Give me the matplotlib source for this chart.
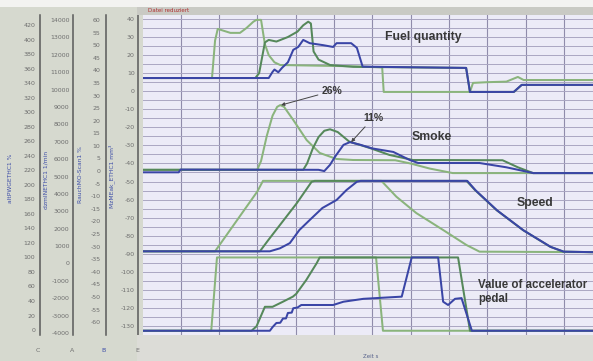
import numpy as np
import matplotlib
matplotlib.use("Agg")
import matplotlib.pyplot as plt
from matplotlib.patches import Rectangle

plt.rcParams["axes.unicode_minus"] = False

# ---------------- data ----------------
# Fuel quantity, axis E (mm^3)
fuel_lg_t = [22.0, 23.82, 23.9, 23.97, 24.3, 24.55, 24.72, 24.9, 24.98, 25.1, 25.2, 25.3, 25.45, 25.6, 27.5, 28.26, 28.3, 30.55, 30.63, 31.0, 31.5, 31.8, 31.95, 33.76]
fuel_lg_v = [7.3, 7.3, 28, 34.5, 32.3, 32.3, 35, 38.5, 39.5, 39.5, 26, 20, 16, 14.5, 13.8, 13.2, -0.4, -0.4, 4.6, 5.0, 5.3, 7.9, 6.2, 6.2]
fuel_dg_t = [22.0, 24.95, 25.05, 25.2, 25.3, 25.5, 25.8, 26.05, 26.2, 26.33, 26.4, 26.47, 26.6, 26.9, 27.5, 30.45, 30.55, 31.7, 31.9, 33.76]
fuel_dg_v = [7.3, 7.3, 10, 27, 28.4, 27.5, 30, 33, 36.5, 38.5, 37.5, 22, 17.5, 14.5, 13.5, 12.9, -0.4, -0.4, 3.5, 3.5]
fuel_bl_t = [22.0, 25.3, 25.4, 25.45, 25.55, 25.65, 25.8, 25.94, 26.07, 26.2, 26.37, 26.72, 26.98, 27.07, 27.45, 27.6, 27.75, 30.45, 30.55, 31.69, 31.9, 33.76]
fuel_bl_v = [7.3, 7.3, 10.7, 12, 10.5, 13, 16, 22.9, 24.5, 28.4, 26.6, 25.5, 24.5, 26.6, 26.6, 24, 13.6, 12.9, -0.4, -0.4, 3.5, 3.5]

# Smoke, axis B (%)
smoke_lg_t = [22.0, 25.0, 25.1, 25.25, 25.4, 25.52, 25.6, 25.7, 25.94, 26.29, 26.63, 27.07, 27.5, 28.6, 29.0, 29.5, 30.1, 33.76]
smoke_lg_v = [0.5, 0.5, 4, 14, 22, 25.5, 26.2, 25.5, 20.3, 12.3, 7.2, 4.8, 4.4, 4.3, 3.0, 1.0, -0.8, -0.8]
smoke_dg_t = [22.0, 26.2, 26.3, 26.45, 26.6, 26.75, 26.9, 27.1, 27.4, 27.93, 28.45, 29.06, 31.4, 31.8, 32.2, 33.76]
smoke_dg_v = [0.5, 0.5, 3, 9, 13.5, 16, 16.6, 15.5, 11.7, 9.2, 6.4, 4.4, 4.3, 1.5, -0.8, -0.8]
smoke_bl_t = [22.0, 22.95, 23.0, 26.6, 26.75, 26.9, 27.03, 27.25, 27.42, 27.7, 28.0, 28.55, 28.98, 29.2, 30.8, 31.5, 32.2, 33.76]
smoke_bl_v = [-0.5, -0.5, 0.6, 0.5, 0.0, 2.5, 5.7, 10.4, 11.5, 10.4, 9.0, 7.6, 4.4, 3.2, 3.2, 1.5, -0.8, -0.8]

# Engine speed, axis A (1/min)
speed_lg_t = [22.0, 23.9, 25.0, 25.15, 28.24, 28.63, 29.15, 29.85, 30.46, 30.8, 33.76]
speed_lg_v = [700, 700, 4130, 4750, 4750, 3840, 2900, 1925, 1060, 680, 650]
speed_dg_t = [22.0, 25.07, 25.29, 26.03, 26.42, 26.5, 30.46, 30.68, 31.24, 31.93, 32.64, 32.98, 33.76]
speed_dg_v = [700, 700, 1350, 3460, 4700, 4750, 4750, 4225, 3075, 1925, 965, 680, 650]
speed_bl_t = [22.0, 25.33, 25.59, 25.85, 26.1, 26.37, 26.7, 27.07, 27.33, 27.6, 27.7, 30.48, 30.7, 31.26, 31.95, 32.66, 33.0, 33.76]
speed_bl_v = [700, 700, 870, 1170, 1925, 2500, 3190, 3650, 4225, 4700, 4750, 4750, 4200, 3050, 1900, 950, 680, 650]

# Accelerator pedal, axis C (%)
pedal_lg_t = [22.0, 23.8, 23.95, 28.1, 28.28, 33.76]
pedal_lg_v = [-1, -1, 100, 100, -1, -1]
pedal_dg_t = [22.0, 24.85, 24.98, 25.2, 25.4, 25.67, 25.93, 26.02, 26.28, 26.55, 26.63, 30.24, 30.55, 33.76]
pedal_dg_v = [-1, -1, 5, 32, 32, 39, 46, 50, 69, 92, 100, 100, -1, -1]
pedal_bl_t = [22.0, 25.33, 25.4, 25.5, 25.6, 25.67, 25.75, 25.8, 25.9, 25.94, 26.05, 26.15, 26.98, 27.25, 27.77, 28.77, 29.03, 29.72, 29.85, 29.98, 30.16, 30.33, 30.6, 33.76]
pedal_bl_v = [-1, -1, 4, 9.7, 10, 15.8, 16, 23.5, 24, 30, 31, 34.5, 34.5, 39, 43, 46, 100, 100, 39, 34.5, 43, 44, -1, -1]

x_ticks = [23, 24, 25, 26, 27, 28, 29, 30, 31, 32, 33]
ticks_C = list(range(0, 421, 20))
ticks_A = list(range(-4000, 14001, 1000))
ticks_B = list(range(-60, 61, 5))
ticks_E = list(range(-130, 41, 10))
label_C = "altPWGETHC1 %"
label_A = "dzmINETHC1 1/min"
label_B = "RauchMO-Scan1 %"
label_E = "MzMEak_ETHC1 mm³"

# ---------------- figure ----------------
W, H = 593, 361
fig = plt.figure(figsize=(W / 100, H / 100), dpi=100)
fig.patch.set_facecolor("#d6d9cf")

def fx(px):
    return px / W

def fy(py):
    return 1 - py / H

# backgrounds
fig.patches.append(Rectangle((0, fy(7)), 1, 7 / H, transform=fig.transFigure,
                             facecolor="#f3f3f1", edgecolor="none", zorder=0))
fig.patches.append(Rectangle((fx(137), fy(15)), 1, 8 / H, transform=fig.transFigure,
                             facecolor="#c9cac4", edgecolor="none", zorder=0))
fig.patches.append(Rectangle((fx(137), 0), 1, 26 / H, transform=fig.transFigure,
                             facecolor="#dcdcd7", edgecolor="none", zorder=0))
fig.text(fx(148), fy(11), "Datei reduziert", color="#b03030", fontsize=4,
         va="center", ha="left")

rect = [fx(143), fy(335), 450 / W, 320 / H]
tcol = "#6e6e6e"
scol = "#5a5a5a"

ax = fig.add_axes(rect)
ax.set_facecolor("#ecebf7")
ax.set_xlim(22.02, 33.76)
ax.set_ylim(-135, 42.2)
ax.set_xticks(x_ticks)
ax.set_yticks(ticks_E)
ax.set_yticks(np.arange(-135, 42, 5), minor=True)
ax.grid(True, which="both", axis="y", color="#aaa6c2", lw=0.7)
ax.grid(True, which="major", axis="x", color="#908cab", lw=0.8)
ax.tick_params(axis="y", which="both", length=0, labelsize=4.5, labelcolor=tcol, pad=2.5)
ax.tick_params(axis="x", length=0, labelsize=4.5, labelcolor=tcol, pad=4)
for s in ["top", "right", "bottom"]:
    ax.spines[s].set_visible(False)
ax.spines["left"].set_position(("outward", 3.5))
ax.spines["left"].set_color(scol)
ax.spines["left"].set_linewidth(1.1)

def side_axis(ylim, ticks, spine_px, pad):
    a = fig.add_axes(rect, sharex=ax)
    a.patch.set_visible(False)
    a.set_ylim(*ylim)
    a.set_yticks(ticks)
    a.tick_params(axis="x", bottom=False, labelbottom=False)
    a.tick_params(axis="y", length=0, labelsize=4.5, labelcolor=tcol, pad=pad)
    for s in ["top", "right", "bottom"]:
        a.spines[s].set_visible(False)
    a.spines["left"].set_position(("axes", (spine_px - 143) / 450))
    a.spines["left"].set_color(scol)
    a.spines["left"].set_linewidth(1.1)
    return a

axC = side_axis((-6.85, 434.1), ticks_C, 40, 3.5)
axA = side_axis((-4112, 14287), ticks_A, 73, 2.5)
axB = side_axis((-65.1, 61.98), ticks_B, 106, 4)

lg, dg, bl = "#8ab47c", "#55885a", "#3a45a6"
lw = 1.45
for a, series in [
    (ax, [(fuel_lg_t, fuel_lg_v, lg), (fuel_dg_t, fuel_dg_v, dg), (fuel_bl_t, fuel_bl_v, bl)]),
    (axB, [(smoke_lg_t, smoke_lg_v, lg), (smoke_dg_t, smoke_dg_v, dg), (smoke_bl_t, smoke_bl_v, bl)]),
    (axA, [(speed_lg_t, speed_lg_v, lg), (speed_dg_t, speed_dg_v, dg), (speed_bl_t, speed_bl_v, bl)]),
    (axC, [(pedal_lg_t, pedal_lg_v, lg), (pedal_dg_t, pedal_dg_v, dg), (pedal_bl_t, pedal_bl_v, bl)]),
]:
    for t, v, c in series:
        a.plot(t, v, color=c, lw=lw, solid_joinstyle="round")

# annotations
bold = dict(fontfamily="Liberation Sans", fontweight="bold", color="#383838")
axB.annotate("26%", xy=(25.62, 26.2), xytext=(fx(322), fy(91)), textcoords="figure fraction",
             fontsize=7.5, ha="left", va="center",
             arrowprops=dict(arrowstyle="-|>", color="#444444", lw=0.7, mutation_scale=5,
                             shrinkA=1, shrinkB=0), **bold)
axB.annotate("11%", xy=(27.45, 11.5), xytext=(fx(363), fy(118)), textcoords="figure fraction",
             fontsize=7.5, ha="left", va="center",
             arrowprops=dict(arrowstyle="-|>", color="#444444", lw=0.7, mutation_scale=5,
                             shrinkA=1, shrinkB=0), **bold)
fig.text(fx(385), fy(37), "Fuel quantity", fontsize=8.8, ha="left", va="center", **bold)
fig.text(fx(412), fy(137), "Smoke", fontsize=8.8, ha="left", va="center", **bold)
fig.text(fx(517), fy(203), "Speed", fontsize=8.8, ha="left", va="center", **bold)
fig.text(fx(478), fy(285), "Value of accelerator", fontsize=8.3, ha="left", va="center", **bold)
fig.text(fx(478), fy(299), "pedal", fontsize=8.3, ha="left", va="center", **bold)

# column labels
lab = dict(rotation=90, color="#3d4da8", fontsize=4.3, ha="center", va="center")
fig.text(fx(11), fy(178), label_C, **lab)
fig.text(fx(46), fy(180), label_A, **lab)
fig.text(fx(80), fy(175), label_B, **lab)
fig.text(fx(112), fy(176), label_E, **lab)
for px, s, c in [(38, "C", tcol), (72, "A", tcol), (103, "B", "#3d4da8"), (137, "E", tcol)]:
    fig.text(fx(px), fy(350), s, color=c, fontsize=4.5, ha="center", va="center")
fig.text(fx(371), fy(357), "Zeit s", color="#55608a", fontsize=4, ha="center", va="center")

fig.savefig("out.png", dpi=100, facecolor=fig.get_facecolor())
